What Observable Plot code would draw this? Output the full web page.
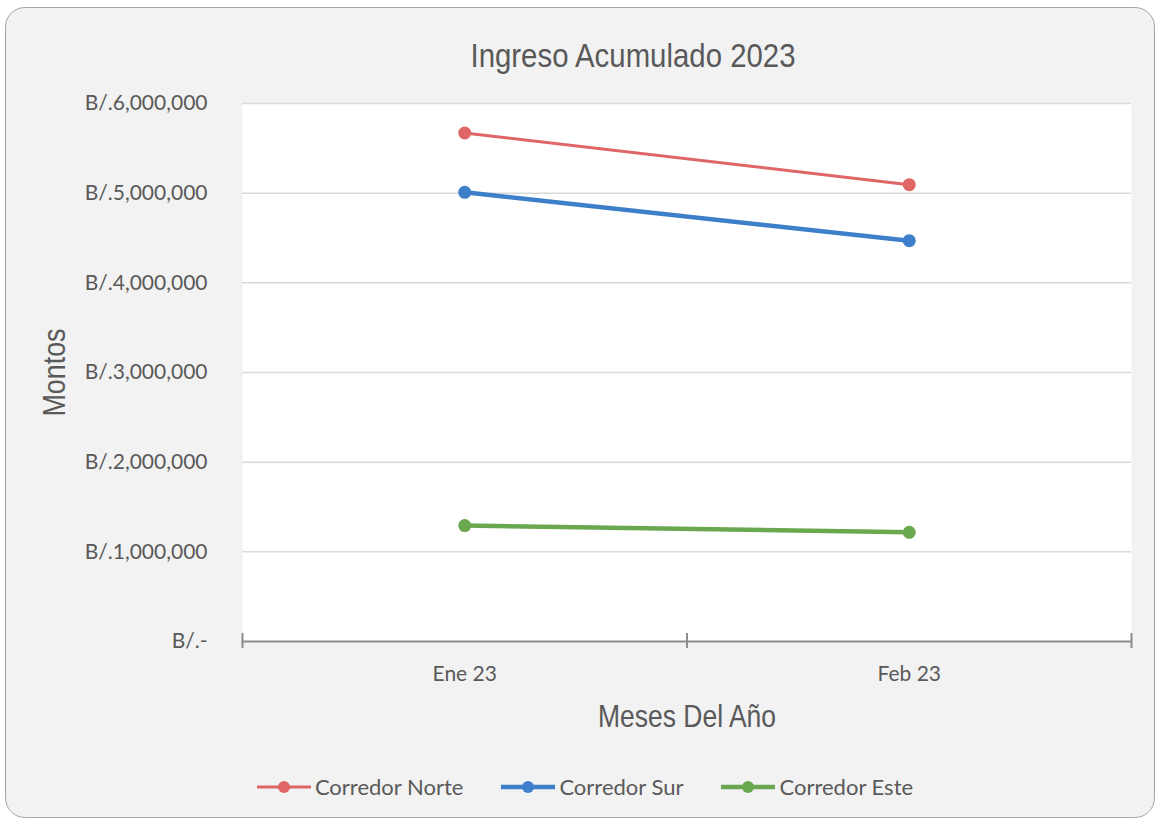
<!DOCTYPE html>
<html>
<head>
<meta charset="utf-8">
<script src="https://cdn.jsdelivr.net/npm/d3@7"></script>
<script src="https://cdn.jsdelivr.net/npm/@observablehq/plot@0.6"></script>
<style>
  html, body { margin: 0; padding: 0; background: #ffffff; width: 1157px; height: 820px; overflow: hidden; }
  #card { position: absolute; left: 5px; top: 7px; width: 1150px; height: 811px; background: #f2f2f2;
          border: 1.5px solid #a6a6a6; border-radius: 20px; box-sizing: border-box; }
  #title { position: absolute; left: 0; top: 38px; width: 1266px; text-align: center;
           font-family: "Liberation Sans", Arial, sans-serif;
           font-size: 34px; line-height: 34px; color: #595959;
           transform: scaleX(0.864); transform-origin: 633px 0; }
  #chart { position: absolute; left: 0; top: 0; }
  #legend { position: absolute; left: 0; width: 1170px; top: 773px; display: flex; justify-content: center;
            font-family: Lato, "Open Sans", sans-serif; font-size: 22px; color: #595959; line-height: 28px; }
  .item { display: flex; align-items: center; margin: 0 19px; }
  .item svg { margin-right: 4px; }
</style>
</head>
<body>
<div id="card"></div>
<div id="title">Ingreso Acumulado 2023</div>
<div id="chart"></div>
<div id="legend"></div>
<script>
// ---- data ----
const months = ["Ene 23", "Feb 23"];
const seriesNames = ["Corredor Norte", "Corredor Sur", "Corredor Este"];
const corredorNorte = [5671000, 5095000];
const corredorSur = [5009000, 4470000];
const corredorEste = [1293000, 1218000];
const yTicks = [0, 1000000, 2000000, 3000000, 4000000, 5000000, 6000000];

// ---- styles ----
const seriesColors = ["#e06666", "#3d7fc9", "#6aa84f"];
const seriesWidths = [3, 4.5, 4.5];

const seriesValues = [corredorNorte, corredorSur, corredorEste];
const rows = seriesNames.flatMap((s, k) =>
  months.map((m, i) => ({ serie: s, mes: m, idx: i, valor: seriesValues[k][i] }))
);

const fmt = v => v === 0 ? "B/.-" : "B/." + d3.format(",")(v);
const pos = d => d.idx + 0.5;
const boundaries = d3.range(months.length + 1);
const centers = months.map((m, i) => i + 0.5);

const chart = Plot.plot({
  width: 1157,
  height: 745,
  marginLeft: 242,
  marginRight: 26,
  marginTop: 103,
  marginBottom: 104,
  style: { background: "transparent", fontFamily: "Lato, 'Open Sans', sans-serif", color: "#595959", overflow: "visible" },
  x: { domain: [0, months.length] },
  y: { domain: [0, 6000000] },
  color: { domain: seriesNames, range: seriesColors },
  marks: [
    Plot.frame({ fill: "white", stroke: null }),
    Plot.gridY(yTicks.filter(v => v > 0), { stroke: "#d9d9d9", strokeOpacity: 1, strokeWidth: 1.5 }),
    Plot.axisY(yTicks, {
      tickSize: 0, tickPadding: 35, tickFormat: fmt, fontSize: 21, fill: "#595959",
      label: "Montos", labelAnchor: "center", labelOffset: 200, labelArrow: "none"
    }),
    Plot.ruleY([0], { stroke: "#8c8c8c", strokeWidth: 2 }),
    Plot.axisX(boundaries, { tickSize: 15, dy: -8, tickFormat: () => "", label: null, stroke: "#8c8c8c", strokeWidth: 2 }),
    Plot.axisX(centers, {
      tickSize: 0, tickPadding: 25, tickFormat: v => months[Math.round(v - 0.5)], fontSize: 21, fill: "#595959",
      label: "Meses Del Año", labelAnchor: "center", labelOffset: 85, labelArrow: "none"
    }),
    ...seriesNames.map((s, k) =>
      Plot.line(rows.filter(d => d.serie === s), { x: pos, y: "valor", stroke: seriesColors[k], strokeWidth: seriesWidths[k] })
    ),
    Plot.dot(rows, { x: pos, y: "valor", fill: "serie", r: 6.5 })
  ]
});
document.getElementById("chart").appendChild(chart);

// style axis titles (narrow look)
const titleFont = "'Liberation Sans', Arial, sans-serif";
[["y-axis label", 88], ["x-axis label", 178]].forEach(([name, len]) => {
  const g = chart.querySelector(`g[aria-label='${name}']`);
  if (!g) return;
  g.setAttribute("font-family", titleFont);
  g.setAttribute("font-size", "32");
  g.querySelectorAll("text").forEach(t => {
    t.setAttribute("font-family", titleFont);
    t.setAttribute("font-size", "32");
    t.setAttribute("textLength", len);
    t.setAttribute("lengthAdjust", "spacingAndGlyphs");
  });
});

// legend
const legend = document.getElementById("legend");
seriesNames.forEach((s, k) => {
  const item = document.createElement("div");
  item.className = "item";
  item.innerHTML = `<svg width="54" height="14"><line x1="0" x2="54" y1="7" y2="7" stroke="${seriesColors[k]}" stroke-width="${seriesWidths[k]}" stroke-linecap="round"/><circle cx="27" cy="7" r="6" fill="${seriesColors[k]}"/></svg><span>${s}</span>`;
  legend.appendChild(item);
});
</script>
</body>
</html>
